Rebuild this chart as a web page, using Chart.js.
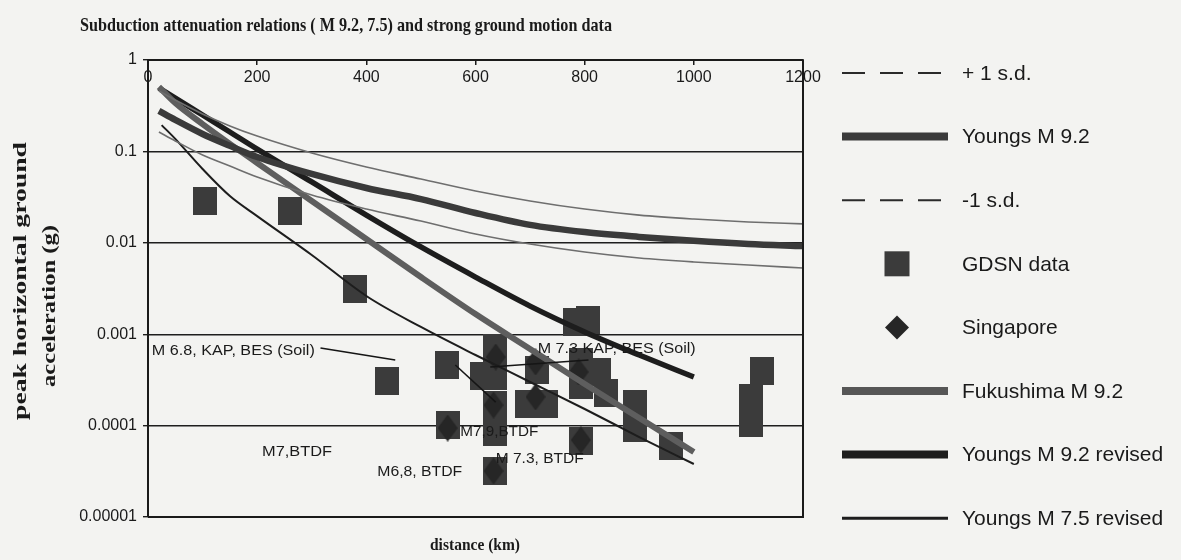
<!DOCTYPE html>
<html>
<head>
<meta charset="utf-8">
<script src="https://cdn.jsdelivr.net/npm/chart.js@4.4.1/dist/chart.umd.min.js"></script>
<style>
  html, body { margin: 0; padding: 0; background: #f3f3f1; }
  #wrap { width: 1181px; height: 560px; }
</style>
</head>
<body>
<div id="wrap"><canvas id="chart" width="1181" height="560"></canvas></div>
<script>
// ---- attenuation curves: distance (km) and peak horizontal ground acceleration (g) ----
const distYoungs = [20, 50, 100, 150, 200, 300, 400, 500, 600, 700, 800, 900, 1000, 1100, 1200];
const youngsM92 = [0.277, 0.221, 0.155, 0.115, 0.0868, 0.0566, 0.0398, 0.0301, 0.0212, 0.0157, 0.0131, 0.0116, 0.0105, 0.0097, 0.0092];
const youngsPlus1sd = [0.458, 0.365, 0.257, 0.190, 0.147, 0.0960, 0.0675, 0.0499, 0.0369, 0.0287, 0.0234, 0.0201, 0.0182, 0.0169, 0.0161];
const youngsMinus1sd = [0.163, 0.130, 0.0913, 0.0692, 0.0525, 0.0333, 0.0234, 0.0173, 0.0125, 0.0097, 0.00793, 0.00682, 0.00617, 0.00572, 0.00530];

const distRevised = [20, 50, 100, 150, 200, 300, 400, 500, 600, 700, 800, 900, 1000];
const fukushimaM92 = [0.507, 0.338, 0.199, 0.121, 0.0747, 0.0287, 0.0110, 0.00422, 0.00166, 0.000689, 0.000285, 0.000121, 0.0000514];
const youngsM92Revised = [0.494, 0.384, 0.250, 0.163, 0.106, 0.0463, 0.0201, 0.0090, 0.00422, 0.00203, 0.00106, 0.000592, 0.000340];

const distM75 = [25, 50, 100, 150, 200, 300, 400, 500, 600, 700, 800, 900, 1000];
const youngsM75Revised = [0.194, 0.137, 0.0642, 0.0325, 0.0196, 0.00736, 0.00262, 0.00120, 0.000592, 0.000300, 0.000152, 0.0000750, 0.0000380];

// ---- recorded motions ----
const gdsnDist = [105, 261, 380, 437, 547, 549, 611, 635, 635, 635, 635, 635, 695, 730, 712, 782, 806, 793, 826, 793, 839, 793, 892, 892, 958, 1105, 1105, 1125];
const gdsnPga = [0.0287, 0.0223, 0.00312, 0.000308, 0.000460, 0.000102, 0.000349, 0.000706, 0.000349, 0.000168, 0.0000851, 0.0000319, 0.000172, 0.000172, 0.000406, 0.00136, 0.00143, 0.000497, 0.000386, 0.000278, 0.000227, 0.0000679, 0.000172, 0.0000941, 0.0000598, 0.000200, 0.000107, 0.000396];
const singaporeDist = [549, 637, 633, 633, 710, 710, 789, 793];
const singaporePga = [0.0000941, 0.000563, 0.000168, 0.0000319, 0.000497, 0.000206, 0.000386, 0.0000696];

// ---- axes ----
const xTickValues = [0, 200, 400, 600, 800, 1000, 1200];
const yTickValues = [0.00001, 0.0001, 0.001, 0.01, 0.1, 1];
const yTickLabels = ['0.00001', '0.0001', '0.001', '0.01', '0.1', '1'];

// ---- text ----
const chartTitle = 'Subduction attenuation relations ( M 9.2, 7.5) and strong ground motion data';
const xTitle = 'distance (km)';
const yTitleLines = ['peak horizontal ground', 'acceleration (g)'];
const seriesLabels = ['+ 1 s.d.', 'Youngs M 9.2', '-1 s.d.', 'GDSN data', 'Singapore', 'Fukushima M 9.2', 'Youngs M 9.2 revised', 'Youngs M 7.5 revised'];

// event notes, anchored at (distance, pga) of the text's left baseline
const noteLabels = ['M 6.8, KAP, BES (Soil)', 'M 7.3 KAP, BES (Soil)', 'M7,BTDF', 'M6,8, BTDF', 'M7,9,BTDF', 'M 7.3, BTDF'];
const noteDist = [7, 714, 209, 420, 572, 637];
const notePga = [0.000592, 0.000622, 0.0000465, 0.0000281, 0.0000769, 0.0000390];
// leader lines from notes to stations: start (distance, pga) -> end (distance, pga)
const leaderFromDist = [316, 627, 563];
const leaderFromPga = [0.000706, 0.000438, 0.000460];
const leaderToDist = [453, 807, 637];
const leaderToPga = [0.000522, 0.000522, 0.000181];

// ---------------------------------------------------------------------------
const ink = '#1a1a1a';
const noteWidths = [163, 158, 70, 85, 78, 88];

function markerCanvas(w, h, color, shape) {
  const c = document.createElement('canvas');
  c.width = w; c.height = h;
  const g = c.getContext('2d');
  g.fillStyle = color;
  if (shape === 'diamond') {
    g.beginPath();
    g.moveTo(w / 2, 0); g.lineTo(w, h / 2); g.lineTo(w / 2, h); g.lineTo(0, h / 2);
    g.closePath(); g.fill();
  } else {
    g.fillRect(0, 0, w, h);
  }
  return c;
}
const squareMark = markerCanvas(24, 28, '#3b3b3b', 'rect');
const diamondMark = markerCanvas(20, 27, '#262626', 'diamond');

const pairs = (xs, ys) => xs.map((x, i) => ({ x, y: ys[i] }));

function curve(label, xs, ys, color, width, legend) {
  return Object.assign({
    type: 'line', label, data: pairs(xs, ys), borderColor: color, borderWidth: width,
    pointRadius: 0, fill: false, cubicInterpolationMode: 'monotone', order: 1
  }, legend);
}
function stations(label, xs, ys, mark, order, legendMarker) {
  return {
    type: 'scatter', label, data: pairs(xs, ys), pointStyle: mark, pointRadius: 12,
    order, legendMarker
  };
}

const datasets = [
  curve(seriesLabels[0], distYoungs, youngsPlus1sd, '#6e6e6e', 1.6, { legendWidth: 2, legendDash: [23, 15], legendColor: '#2a2a2a' }),
  curve(seriesLabels[1], distYoungs, youngsM92, '#3a3a3a', 6.5, { legendWidth: 8, legendColor: '#3a3a3a' }),
  curve(seriesLabels[2], distYoungs, youngsMinus1sd, '#6e6e6e', 1.6, { legendWidth: 2, legendDash: [23, 15], legendColor: '#2a2a2a' }),
  stations(seriesLabels[3], gdsnDist, gdsnPga, squareMark, 3, 'square'),
  stations(seriesLabels[4], singaporeDist, singaporePga, diamondMark, 2, 'diamond'),
  curve(seriesLabels[5], distRevised, fukushimaM92, '#5e5e5e', 6, { legendWidth: 8, legendColor: '#565656' }),
  curve(seriesLabels[6], distRevised, youngsM92Revised, '#1d1d1d', 5.5, { legendWidth: 8, legendColor: '#1d1d1d' }),
  curve(seriesLabels[7], distM75, youngsM75Revised, '#1d1d1d', 2, { legendWidth: 3, legendColor: '#1d1d1d' })
];

// text stretched/compressed horizontally to a given width
function fitText(ctx, text, x, y, font, width, align, angle) {
  ctx.save();
  ctx.translate(x, y);
  if (angle) ctx.rotate(angle);
  ctx.font = font;
  const natural = ctx.measureText(text).width;
  ctx.scale(width ? width / natural : 1, 1);
  ctx.textAlign = align || 'left';
  ctx.fillText(text, 0, 0);
  ctx.restore();
}

const decorations = {
  id: 'decorations',
  beforeDraw(chart) {
    const { ctx, width, height } = chart;
    ctx.save();
    ctx.fillStyle = '#f3f3f1';
    ctx.fillRect(0, 0, width, height);
    ctx.restore();
  },
  afterDatasetsDraw(chart) {
    const { ctx, chartArea: a, scales: { x, y } } = chart;
    ctx.save();
    // plot frame (right and bottom)
    ctx.strokeStyle = ink;
    ctx.lineWidth = 2;
    ctx.beginPath();
    ctx.moveTo(a.right, a.top); ctx.lineTo(a.right, a.bottom); ctx.lineTo(a.left, a.bottom);
    ctx.stroke();
    // leader lines
    ctx.lineWidth = 1.6;
    ctx.strokeStyle = '#151515';
    leaderFromDist.forEach((d, i) => {
      ctx.beginPath();
      ctx.moveTo(x.getPixelForValue(d), y.getPixelForValue(leaderFromPga[i]));
      ctx.lineTo(x.getPixelForValue(leaderToDist[i]), y.getPixelForValue(leaderToPga[i]));
      ctx.stroke();
    });
    // notes
    ctx.fillStyle = ink;
    ctx.textBaseline = 'alphabetic';
    noteLabels.forEach((t, i) => {
      fitText(ctx, t, x.getPixelForValue(noteDist[i]), y.getPixelForValue(notePga[i]),
        '14px "Liberation Sans", Arial, sans-serif', noteWidths[i], 'left');
    });
    ctx.restore();
  },
  afterDraw(chart) {
    const { ctx } = chart;
    ctx.save();
    ctx.fillStyle = ink;
    // title
    ctx.textBaseline = 'alphabetic';
    fitText(ctx, chartTitle, 80, 31, 'bold 19px "Liberation Serif", "Times New Roman", serif', 532, 'left');
    // axis titles
    ctx.textBaseline = 'middle';
    fitText(ctx, yTitleLines[0], 21, 281, 'bold 19px "Liberation Serif", serif', 278, 'center', -Math.PI / 2);
    fitText(ctx, yTitleLines[1], 50, 306, 'bold 19px "Liberation Serif", serif', 162, 'center', -Math.PI / 2);
    fitText(ctx, xTitle, 475, 546, 'bold 16px "Liberation Serif", serif', 90, 'center');

    // legend
    const top = 73, step = 63.6, x0 = 842, x1 = 948, textX = 962, mx = 897;
    chart.data.datasets.forEach((ds, i) => {
      const cy = top + i * step;
      if (ds.legendMarker === 'square') {
        ctx.fillStyle = '#3b3b3b';
        ctx.fillRect(mx - 12.5, cy - 12.5, 25, 25);
      } else if (ds.legendMarker === 'diamond') {
        ctx.fillStyle = '#262626';
        ctx.beginPath();
        ctx.moveTo(mx, cy - 12); ctx.lineTo(mx + 12, cy); ctx.lineTo(mx, cy + 12); ctx.lineTo(mx - 12, cy);
        ctx.closePath(); ctx.fill();
      } else {
        ctx.strokeStyle = ds.legendColor || ds.borderColor;
        ctx.lineWidth = ds.legendWidth || ds.borderWidth;
        ctx.setLineDash(ds.legendDash || []);
        ctx.beginPath();
        ctx.moveTo(x0, cy); ctx.lineTo(x1, cy);
        ctx.stroke();
        ctx.setLineDash([]);
      }
      ctx.fillStyle = ink;
      ctx.font = '21px "Liberation Sans", Arial, sans-serif';
      ctx.textAlign = 'left';
      ctx.textBaseline = 'middle';
      ctx.fillText(ds.label, textX, cy + 1);
    });
    ctx.restore();
  }
};

new Chart(document.getElementById('chart'), {
  type: 'scatter',
  data: { datasets },
  options: {
    responsive: false,
    animation: false,
    events: [],
    layout: { padding: { left: 0, top: 0, right: 378, bottom: 43 } },
    plugins: { legend: { display: false }, tooltip: { enabled: false }, title: { display: false } },
    scales: {
      x: {
        type: 'linear', position: 'top', min: 0, max: 1200,
        afterBuildTicks: s => { s.ticks = xTickValues.map(v => ({ value: v })); },
        afterFit: s => { s.height = 60; },
        ticks: {
          autoSkip: false, maxRotation: 0, mirror: true, padding: 8, color: ink,
          font: { family: '"Liberation Sans", Arial, sans-serif', size: 16 },
          callback: v => String(v)
        },
        grid: { drawOnChartArea: false, drawTicks: true, tickLength: -5, color: ink, lineWidth: 1.5 },
        border: { display: true, color: ink, width: 2 }
      },
      y: {
        type: 'logarithmic', min: 0.00001, max: 1,
        afterBuildTicks: s => { s.ticks = yTickValues.map(v => ({ value: v, major: true })); },
        afterFit: s => { s.width = 148; },
        ticks: {
          autoSkip: false, padding: 6, color: ink,
          font: { family: '"Liberation Sans", Arial, sans-serif', size: 16 },
          callback: (v, i) => yTickLabels[i]
        },
        grid: { color: '#1e1e1e', lineWidth: 1.4, drawTicks: true, tickLength: 5 },
        border: { display: true, color: ink, width: 2 }
      }
    }
  },
  plugins: [decorations]
});
</script>
</body>
</html>
